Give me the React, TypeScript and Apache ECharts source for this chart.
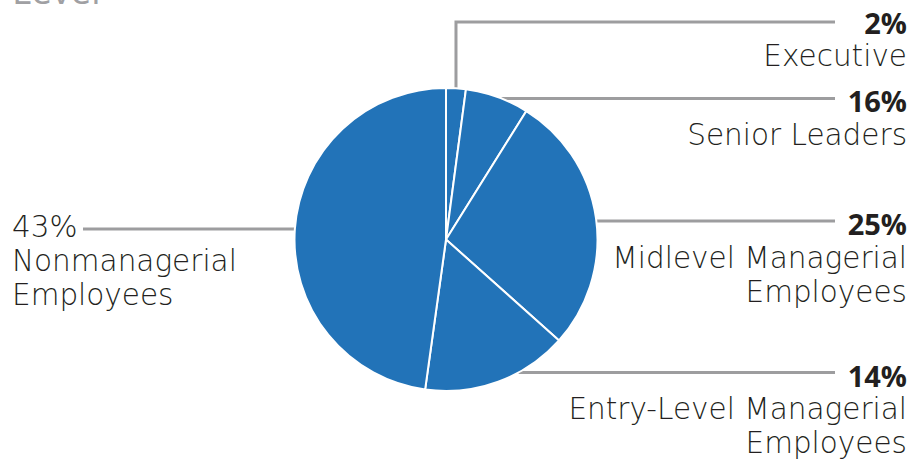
import React, { useEffect, useRef } from "react";
import * as echarts from "echarts";

// ---- data ----
const categories = [
  "Executive",
  "Senior Leaders",
  "Midlevel Managerial Employees",
  "Entry-Level Managerial Employees",
  "Nonmanagerial Employees",
];
const labelTextLines = [
  ["Executive"],
  ["Senior Leaders"],
  ["Midlevel Managerial", "Employees"],
  ["Entry-Level Managerial", "Employees"],
  ["Nonmanagerial", "Employees"],
];
const percentLabels = ["2%", "16%", "25%", "14%", "43%"];
// slice sizes as drawn in the picture (share of the full circle, %)
const sliceShares = [2.1, 6.8, 27.7, 15.6, 47.8];
const titleText = "Level";

// ---- layout ----
const CX = 446;
const CY = 239.5;
const R = 151.5;
const LINE_END_RIGHT = 835;
const TEXT_RIGHT = 907;
const TEXT_LEFT = 12;
const LINE_END_LEFT = 83;
const leaderY = [22, 98.5, 221, 372.5, 229];
const labelTop = [5, 83.5, 206.5, 358, 210];
const labelSide = ["right", "right", "right", "right", "left"];
const leaderKind = ["elbow", "flat", "flat", "flat", "flat"];

const FONT_BOLD = "'Open Sans', 'Noto Sans', sans-serif";
const FONT_LIGHT = "'DejaVu Sans', 'Open Sans', sans-serif";

export default function App() {
  const ref = useRef<HTMLDivElement>(null);

  useEffect(() => {
    if (!ref.current) return;
    const chart = echarts.init(ref.current, null, { renderer: "svg" });

    const total = sliceShares.reduce((a, b) => a + b, 0);
    const midAngles: number[] = [];
    let acc = 0;
    sliceShares.forEach((v) => {
      const mid = ((acc + v / 2) / total) * 2 * Math.PI;
      midAngles.push(mid);
      acc += v;
    });

    const data = categories.map((name, i) => {
      const right = labelSide[i] === "right";
      const formatter = right
        ? [`{pR|${percentLabels[i]}}`, ...labelTextLines[i].map((t) => `{nR|${t}}`)].join("\n")
        : [`{nL|${percentLabels[i]}}`, ...labelTextLines[i].map((t) => `{nL|${t}}`)].join("\n");
      return {
        name,
        value: sliceShares[i],
        label: { formatter, width: right ? 360 : 270, align: right ? "right" : "left" },
      };
    });

    chart.setOption({
      animation: false,
      graphic: [
        {
          type: "text",
          x: 12,
          y: 8,
          style: {
            text: titleText,
            fontFamily: FONT_BOLD,
            fontWeight: "normal",
            fontSize: 37,
            fill: "#a0a0a3",
            verticalAlign: "bottom",
          },
        },
      ],
      series: [
        {
          type: "pie",
          center: [CX, CY],
          radius: R,
          startAngle: 90,
          clockwise: true,
          avoidLabelOverlap: false,
          data,
          itemStyle: { color: "#2273b8", borderColor: "#ffffff", borderWidth: 2 },
          emphasis: { disabled: true },
          label: {
            show: true,
            position: "outside",
            rich: {
              pR: {
                fontFamily: FONT_BOLD,
                fontSize: 29,
                fontWeight: "bold",
                color: "#231f20",
                lineHeight: 34,
                align: "right",
              },
              nR: {
                fontFamily: FONT_LIGHT,
                fontSize: 29.5,
                fontWeight: 200,
                color: "#231f20",
                lineHeight: 34,
                align: "right",
              },
              nL: {
                fontFamily: FONT_LIGHT,
                fontSize: 29.5,
                fontWeight: 200,
                color: "#231f20",
                lineHeight: 34,
                align: "left",
              },
            },
          },
          labelLine: {
            show: true,
            length: 10,
            length2: 10,
            lineStyle: { color: "#9d9d9f", width: 3 },
          },
          labelLayout: (params: any) => {
            const i = params.dataIndex;
            const right = labelSide[i] === "right";
            const y = leaderY[i];
            let pts: number[][];
            if (leaderKind[i] === "elbow") {
              const a = midAngles[i];
              const ex = CX + R * Math.sin(a);
              const ey = CY - R * Math.cos(a);
              pts = [
                [ex, ey],
                [ex, y],
                [LINE_END_RIGHT, y],
              ];
            } else {
              const dy = y - CY;
              const dx = Math.sqrt(Math.max(0, R * R - dy * dy));
              const sx = right ? CX + dx : CX - dx;
              const endX = right ? LINE_END_RIGHT : LINE_END_LEFT;
              pts = [
                [sx, y],
                [(sx + endX) / 2, y],
                [endX, y],
              ];
            }
            return {
              x: right ? TEXT_RIGHT : TEXT_LEFT,
              y: labelTop[i],
              align: right ? "right" : "left",
              verticalAlign: "top",
              labelLinePoints: pts,
            };
          },
        },
      ],
    });

    return () => chart.dispose();
  }, []);

  return (
    <div
      ref={ref}
      style={{ position: "fixed", left: 0, top: 0, width: 913, height: 460, background: "#fff" }}
    />
  );
}
